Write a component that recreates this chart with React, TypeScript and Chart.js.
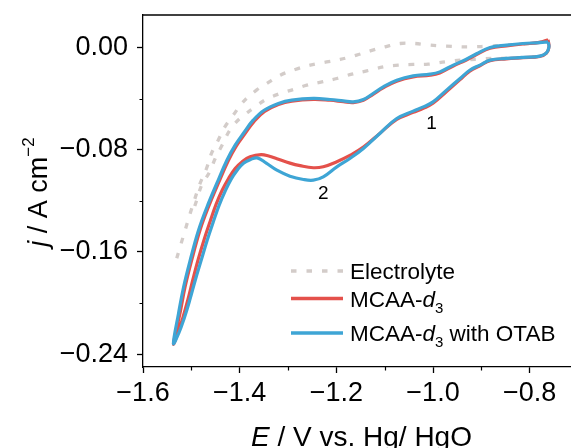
import React, { useEffect, useRef } from "react";
import { Chart, registerables } from "chart.js";

Chart.register(...registerables);

const FONT = "'Liberation Sans', Arial, Helvetica, sans-serif";

// Axis ticks
const xTicks = [-1.6, -1.4, -1.2, -1.0, -0.8];
const xMinorTicks = [-1.5, -1.3, -1.1, -0.9];
const yTicks = [0, -0.08, -0.16, -0.24];
const yMinorTicks = [-0.04, -0.12, -0.2];

// Electrolyte (dashed grey) – starts at the negative end, outer branch up to the vertex, inner branch back
const elecE = [
  -1.5302, -1.5209, -1.5116, -1.5023, -1.493, -1.4826, -1.4686, -1.4583, -1.4444, -1.4306, -1.4134, -1.3928,
  -1.3653, -1.344, -1.316, -1.285, -1.254, -1.22, -1.192, -1.158, -1.13, -1.099, -1.068, -1.037, -1.006,
  -0.972, -0.941, -0.917, -0.884, -0.855, -0.81, -0.762,
  -0.76, -0.765, -0.779, -0.814, -0.848, -0.879, -0.91, -0.944, -0.975, -1.01, -1.041, -1.072, -1.103,
  -1.137, -1.168, -1.199, -1.23, -1.261, -1.289, -1.3198, -1.3479, -1.3721, -1.3996, -1.4202, -1.4362,
  -1.4506, -1.462, -1.4785, -1.4888, -1.4981,
];
const elecJ = [
  -0.1649, -0.1531, -0.1414, -0.1297, -0.1187, -0.107, -0.0947, -0.0829, -0.0725, -0.0621, -0.053, -0.0426,
  -0.0334, -0.0282, -0.0217, -0.0172, -0.0138, -0.0113, -0.0094, -0.006, -0.0027, 0.0005, 0.0031, 0.0031,
  0.0018, 0.001, 0.0005, 0.0005, 0.001, 0.0018, 0.0026, 0.0044,
  0.0005, -0.0042, -0.0068, -0.0078, -0.0084, -0.0086, -0.0092, -0.0099, -0.0113, -0.0131, -0.0133, -0.0138,
  -0.0152, -0.0183, -0.0209, -0.0243, -0.0269, -0.0295, -0.0329, -0.0365, -0.0412, -0.0477, -0.0556, -0.0647,
  -0.0764, -0.0869, -0.0973, -0.1077, -0.1195, -0.1297,
];

// MCAA-d3 (red)
const mcaaE = [
  -0.762, -0.76, -0.7653, -0.779, -0.8136, -0.848, -0.882, -0.903, -0.924, -0.944, -0.972, -1.0, -1.02,
  -1.041, -1.075, -1.11, -1.144, -1.172, -1.199, -1.227, -1.2475, -1.275, -1.296, -1.323, -1.34, -1.3556,
  -1.3783, -1.3948, -1.4093, -1.4227, -1.4362, -1.4486, -1.4609, -1.4733, -1.4857, -1.4971, -1.5074, -1.5178,
  -1.5281, -1.537,
  -1.5234, -1.5131, -1.4993, -1.4821, -1.4648, -1.4441, -1.4234, -1.4068, -1.3885, -1.3705, -1.3485, -1.3198,
  -1.2922, -1.2475, -1.213, -1.1855, -1.165, -1.144, -1.124, -1.103, -1.075, -1.041, -1.006, -0.986, -0.958,
  -0.931, -0.91, -0.882, -0.848, -0.814, -0.779, -0.762,
];
const mcaaJ = [
  0.006, 0.0005, -0.0044, -0.007, -0.008, -0.0089, -0.0103, -0.0143, -0.0185, -0.0252, -0.0345, -0.0437,
  -0.0476, -0.0508, -0.0563, -0.0672, -0.078, -0.0845, -0.0894, -0.0933, -0.0941, -0.0925, -0.0905, -0.087,
  -0.0849, -0.0838, -0.0855, -0.0894, -0.0948, -0.1023, -0.1117, -0.1226, -0.1359, -0.15, -0.1657, -0.1821,
  -0.1977, -0.2118, -0.2235, -0.232,
  -0.2079, -0.1876, -0.1664, -0.143, -0.125, -0.1062, -0.0885, -0.077, -0.0672, -0.058, -0.0501, -0.0447,
  -0.042, -0.0406, -0.0413, -0.0424, -0.0431, -0.0413, -0.0367, -0.0316, -0.0264, -0.023, -0.0217, -0.0199,
  -0.0145, -0.0098, -0.0055, -0.0006, 0.0013, 0.0027, 0.004, 0.006,
];

// MCAA-d3 with OTAB (blue)
const otabE = [
  -0.762, -0.76, -0.7653, -0.779, -0.8136, -0.848, -0.882, -0.903, -0.924, -0.944, -0.972, -1.0, -1.02,
  -1.041, -1.075, -1.11, -1.144, -1.172, -1.199, -1.227, -1.2475, -1.268, -1.296, -1.323, -1.345, -1.3638,
  -1.3783, -1.3921, -1.4052, -1.4176, -1.43, -1.4424, -1.4548, -1.4672, -1.4795, -1.4919, -1.5033, -1.5147,
  -1.526, -1.537,
  -1.5264, -1.5161, -1.5023, -1.4851, -1.4678, -1.4471, -1.4264, -1.4093, -1.3907, -1.3721, -1.3494, -1.3198,
  -1.2922, -1.2475, -1.213, -1.1855, -1.165, -1.144, -1.124, -1.103, -1.075, -1.041, -1.006, -0.986, -0.958,
  -0.931, -0.91, -0.882, -0.848, -0.814, -0.779, -0.762,
];
const otabJ = [
  0.0044, 0.0005, -0.0042, -0.0068, -0.0078, -0.0086, -0.0099, -0.0138, -0.0178, -0.0243, -0.0334, -0.0426,
  -0.0465, -0.0498, -0.0556, -0.0673, -0.079, -0.0869, -0.0934, -0.1013, -0.1038, -0.1033, -0.1007, -0.096,
  -0.0905, -0.0864, -0.0878, -0.0905, -0.096, -0.103, -0.1124, -0.1234, -0.1367, -0.1508, -0.1664, -0.1821,
  -0.1977, -0.2118, -0.2235, -0.2316,
  -0.2079, -0.1876, -0.1664, -0.143, -0.125, -0.1062, -0.0882, -0.0764, -0.0663, -0.0569, -0.0491, -0.0438,
  -0.0412, -0.0399, -0.0407, -0.0418, -0.0426, -0.0407, -0.036, -0.0308, -0.0256, -0.0222, -0.0209, -0.0191,
  -0.0138, -0.0092, -0.0049, 0.0, 0.0018, 0.0031, 0.0038, 0.0044,
];

// Peak labels
const peakLabels = ["1", "2"];
const peakE = [-1.003, -1.227];
const peakJ = [-0.0595, -0.1142];

const COLORS = { elec: "#d3ccc9", mcaa: "#e4514b", otab: "#3ea5d5" };

type Seg = { t: string; italic?: boolean; size: number; dy?: number };

function drawRich(ctx: CanvasRenderingContext2D, segs: Seg[], x: number, y: number, align: "left" | "center") {
  const fontOf = (s: Seg) => `${s.italic ? "italic " : ""}${s.size}px ${FONT}`;
  let w = 0;
  segs.forEach((s) => {
    ctx.font = fontOf(s);
    w += ctx.measureText(s.t).width;
  });
  let cx = align === "center" ? x - w / 2 : x;
  ctx.textAlign = "left";
  ctx.textBaseline = "alphabetic";
  segs.forEach((s) => {
    ctx.font = fontOf(s);
    ctx.fillText(s.t, cx, y + (s.dy || 0));
    cx += ctx.measureText(s.t).width;
  });
}

const legendItems: { segs: Seg[]; color: string; dash: number[]; width: number }[] = [
  { segs: [{ t: "Electrolyte", size: 22.5 }], color: COLORS.elec, dash: [5.5, 10], width: 3.3 },
  {
    segs: [
      { t: "MCAA-", size: 22.5 },
      { t: "d", size: 22.5, italic: true },
      { t: "3", size: 15, dy: 6 },
    ],
    color: COLORS.mcaa,
    dash: [],
    width: 3.3,
  },
  {
    segs: [
      { t: "MCAA-", size: 22.5 },
      { t: "d", size: 22.5, italic: true },
      { t: "3", size: 15, dy: 6 },
      { t: " with OTAB", size: 22.5 },
    ],
    color: COLORS.otab,
    dash: [],
    width: 3.3,
  },
];
const legendRowsY = [271, 298.5, 333];

const decorPlugin = {
  id: "decor",
  afterDraw(chart: any) {
    const { ctx, chartArea: a, scales } = chart;
    const xs = scales.x;
    const ys = scales.y;
    ctx.save();
    ctx.strokeStyle = "#000";
    ctx.fillStyle = "#000";
    // top frame line
    ctx.lineWidth = 1.3;
    ctx.beginPath();
    ctx.moveTo(a.left - 0.65, a.top);
    ctx.lineTo(a.right, a.top);
    ctx.stroke();
    // minor ticks
    ctx.lineWidth = 1.2;
    ctx.beginPath();
    xMinorTicks.forEach((v) => {
      const px = Math.round(xs.getPixelForValue(v)) + 0.5;
      ctx.moveTo(px, a.bottom);
      ctx.lineTo(px, a.bottom + 3.5);
    });
    yMinorTicks.forEach((v) => {
      const py = Math.round(ys.getPixelForValue(v)) + 0.5;
      ctx.moveTo(a.left, py);
      ctx.lineTo(a.left - 3.5, py);
    });
    ctx.stroke();

    // peak labels
    ctx.font = `19px ${FONT}`;
    ctx.textAlign = "center";
    ctx.textBaseline = "middle";
    peakLabels.forEach((l, i) => {
      ctx.fillText(l, xs.getPixelForValue(peakE[i]), ys.getPixelForValue(peakJ[i]));
    });

    // legend
    legendItems.forEach((it, i) => {
      const y = legendRowsY[i];
      ctx.save();
      ctx.strokeStyle = it.color;
      ctx.lineWidth = it.width;
      ctx.setLineDash(it.dash);
      ctx.lineCap = "butt";
      ctx.beginPath();
      ctx.moveTo(291, y);
      ctx.lineTo(343, y);
      ctx.stroke();
      ctx.restore();
      drawRich(ctx, it.segs, 350, y + 8, "left");
    });

    // x title
    drawRich(
      ctx,
      [
        { t: "E", italic: true, size: 28 },
        { t: " / V vs. Hg/ HgO", size: 28 },
      ],
      (a.left + a.right) / 2 + 1,
      446,
      "center"
    );

    // y title (rotated)
    ctx.save();
    ctx.translate(46.5, 192);
    ctx.rotate(-Math.PI / 2);
    drawRich(
      ctx,
      [
        { t: "j", italic: true, size: 27 },
        { t: " / A cm", size: 27 },
        { t: "\u22122", size: 17, dy: -13 },
      ],
      0,
      0,
      "center"
    );
    ctx.restore();
    ctx.restore();
  },
};

const fmt = (v: number, d: number) => (v < 0 ? "\u2212" : "") + Math.abs(v).toFixed(d);

const zeroPadding = (s: any) => {
  s.paddingTop = 0;
  s.paddingBottom = 0;
  s.paddingLeft = 0;
  s.paddingRight = 0;
};

export default function App() {
  const ref = useRef<HTMLCanvasElement>(null);
  useEffect(() => {
    const toPts = (xs: number[], ys: number[]) => xs.map((x, i) => ({ x, y: ys[i] }));
    const chart = new Chart(ref.current as HTMLCanvasElement, {
      type: "line",
      data: {
        datasets: [
          {
            label: "MCAA-d3 with OTAB",
            data: toPts(otabE, otabJ),
            borderColor: COLORS.otab,
            borderWidth: 3.2,
            pointRadius: 0,
            tension: 0.4,
            fill: false,
            order: 0,
          },
          {
            label: "MCAA-d3",
            data: toPts(mcaaE, mcaaJ),
            borderColor: COLORS.mcaa,
            borderWidth: 3.2,
            pointRadius: 0,
            tension: 0.4,
            fill: false,
            order: 1,
          },
          {
            label: "Electrolyte",
            data: toPts(elecE, elecJ),
            borderColor: COLORS.elec,
            borderWidth: 3.3,
            borderDash: [5.5, 10],
            pointRadius: 0,
            tension: 0.4,
            fill: false,
            order: 2,
          },
        ],
      },
      options: {
        animation: false,
        responsive: false,
        devicePixelRatio: 1,
        layout: { padding: { left: 0, top: 15, right: 12, bottom: 0 } },
        plugins: { legend: { display: false }, tooltip: { enabled: false } },
        scales: {
          x: {
            type: "linear",
            min: -1.6,
            max: -0.7,
            afterBuildTicks: (s: any) => {
              s.ticks = xTicks.map((v) => ({ value: v }));
            },
            afterFit: (s: any) => {
              s.height = 81;
              zeroPadding(s);
            },
            ticks: {
              autoSkip: false,
              maxRotation: 0,
              padding: 4,
              color: "#000",
              font: { family: FONT, size: 27 },
              callback: (v: any) => fmt(Number(v), 1),
            },
            grid: {
              drawOnChartArea: false,
              drawTicks: true,
              tickLength: 6,
              tickWidth: 1.3,
              tickColor: "#000",
              color: "#000",
            },
            border: { color: "#000", width: 1.3 },
          },
          y: {
            type: "linear",
            min: -0.25,
            max: 0.0254,
            afterBuildTicks: (s: any) => {
              s.ticks = yTicks.map((v) => ({ value: v }));
            },
            afterFit: (s: any) => {
              s.width = 143;
              zeroPadding(s);
            },
            ticks: {
              padding: 9,
              color: "#000",
              font: { family: FONT, size: 27 },
              callback: (v: any) => fmt(Number(v), 2),
            },
            grid: {
              drawOnChartArea: false,
              drawTicks: true,
              tickLength: 6,
              tickWidth: 1.3,
              tickColor: "#000",
              color: "#000",
            },
            border: { color: "#000", width: 1.3 },
          },
        },
      },
      plugins: [decorPlugin],
    } as any);
    return () => chart.destroy();
  }, []);
  return (
    <div
      style={{
        position: "fixed",
        left: 0,
        top: 0,
        width: 571,
        height: 448,
        overflow: "hidden",
        background: "#fff",
      }}
    >
      <canvas ref={ref} width={590} height={448} style={{ display: "block", width: 590, height: 448 }} />
    </div>
  );
}
